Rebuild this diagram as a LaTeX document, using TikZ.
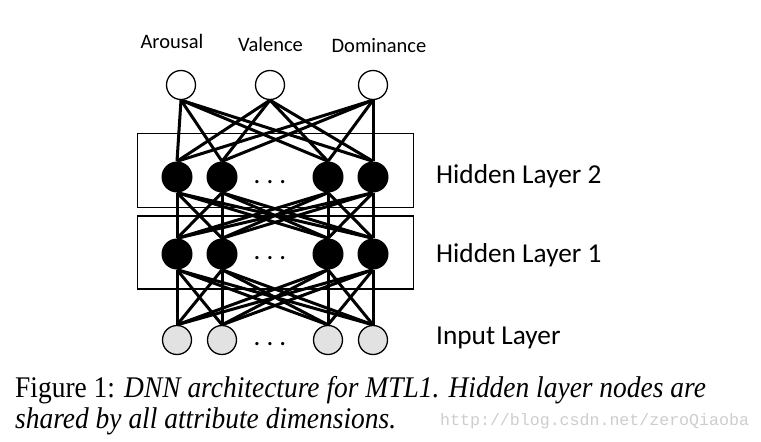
\documentclass[tikz,border=0pt]{standalone}
\usepackage{fontspec}
\setmainfont{Liberation Serif}
\newfontfamily\labelfont{Carlito}
\newfontfamily\markfont{Liberation Mono}
\usetikzlibrary{backgrounds}
\definecolor{inputgray}{RGB}{226,226,226}
\definecolor{markgray}{RGB}{205,205,205}
\tikzset{
  outnode/.style={circle,draw,line width=1.3pt,fill=white,minimum size=29pt,inner sep=0pt},
  hidnode/.style={circle,fill=black,minimum size=31pt,inner sep=0pt},
  innode/.style={circle,draw,line width=1.3pt,fill=inputgray,minimum size=29pt,inner sep=0pt},
  edge/.style={line width=3pt},
  layerbox/.style={draw,line width=1.4pt},
  toplabel/.style={font=\labelfont\fontsize{20.5}{24}\selectfont,anchor=base,inner sep=0pt},
  layerlabel/.style={font=\labelfont\fontsize{27.3}{32}\selectfont,anchor=base west,inner sep=0pt},
  dotslabel/.style={font=\labelfont\fontsize{27}{32}\selectfont,anchor=base,inner sep=0pt},
  captext/.style={font=\fontsize{30}{34}\selectfont,anchor=base west,inner sep=0pt},
  marktext/.style={font=\markfont\fontsize{16.6}{20}\selectfont,text=markgray,anchor=base west,inner sep=0pt}
}
\begin{document}
\begin{tikzpicture}[x=1pt,y=-1pt]
\useasboundingbox (0,0) rectangle (761,442);
% boxes
\node[layerbox,minimum width=276pt,minimum height=74pt,inner sep=0pt] (box2) at (275.5,170.5) {};
\node[layerbox,minimum width=276pt,minimum height=73pt,inner sep=0pt] (box1) at (275.5,252.5) {};
% output nodes
\node[outnode] (o1) at (181,85) {};
\node[outnode] (o2) at (270,85) {};
\node[outnode] (o3) at (373,85) {};
% hidden layers and input
\foreach \i/\x in {1/177,2/222,3/328,4/373} {
  \node[hidnode] (b\i) at (\x,177) {};
  \node[hidnode] (a\i) at (\x,254) {};
  \node[innode] (n\i) at (\x,340) {};
}
% edges
\begin{pgfonlayer}{background}
\foreach \o in {o1,o2,o3} \foreach \h in {1,2,3,4}
  \draw[edge] (\o.south) -- (b\h.north);
\foreach \p in {1,2,3,4} \foreach \q in {1,2,3,4}
  \draw[edge] (b\p.south) -- (a\q.north);
\foreach \p in {1,2,3,4} \foreach \q in {1,2,3,4}
  \draw[edge] (a\p.south) -- (n\q.north);
\end{pgfonlayer}
% dots
\node[dotslabel] (d2) at (270,183.5) {.\ .\ .};
\node[dotslabel] (d1) at (270,259.5) {.\ .\ .};
\node[dotslabel] (d0) at (270,345.5) {.\ .\ .};
% labels
\node[toplabel] (t1) at (172,48) {Arousal};
\node[toplabel] (t2) at (270.5,51) {Valence};
\node[toplabel] (t3) at (379,52) {Dominance};
\node[layerlabel] (l2) at (436,183) {Hidden Layer 2};
\node[layerlabel] (l1) at (436,262) {Hidden Layer 1};
\node[layerlabel] (l0) at (436,344) {Input Layer};
% caption
\node[captext] (c1) at (15,397) {\scalebox{0.915}[1]{Figure 1: \textit{DNN architecture for MTL1. Hidden layer nodes are}}};
\node[captext] (c2) at (15,428) {\scalebox{0.915}[1]{\textit{shared by all attribute dimensions.}}};
\node[marktext] (wm) at (440,425) {http://blog.csdn.net/zeroQiaoba};
\end{tikzpicture}
\end{document}
